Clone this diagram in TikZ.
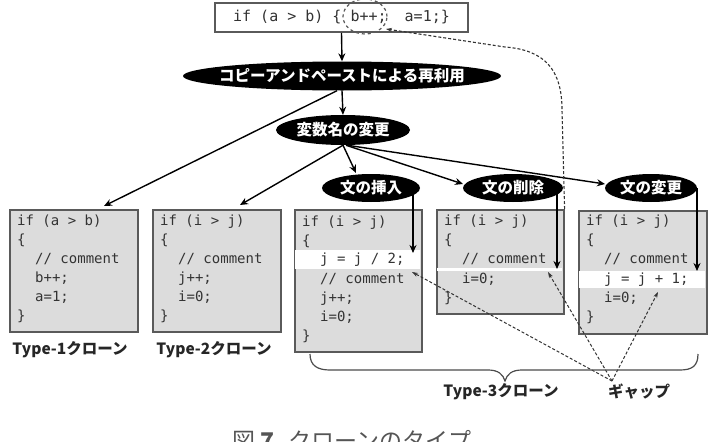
\documentclass[tikz,border=0pt]{standalone}
\usepackage{fontspec}
\setmonofont{DejaVu Sans Mono}
\newfontfamily\jp{Noto Sans CJK JP}
\usetikzlibrary{arrows.meta,shapes.geometric}
\definecolor{boxgray}{HTML}{DCDCDC}
\definecolor{edgecol}{HTML}{5A5A5A}
\definecolor{codecol}{HTML}{333333}
\definecolor{capcol}{HTML}{555555}
\newcommand\codeln[4]{\node[codeline] (#1) at (#2,#3) {#4};}
\begin{document}
\begin{tikzpicture}[x=1pt,y=-1pt,
  codebox/.style={draw=edgecol,line width=1.6pt,fill=boxgray,anchor=north west,inner sep=0pt,minimum width=#1},
  codeline/.style={anchor=west,inner sep=0pt,font=\ttfamily\fontsize{14}{14}\selectfont,text=codecol,text height=10pt,text depth=3pt},
  blob/.style={ellipse,fill=black,inner sep=0pt,text=white,font=\jp\bfseries\fontsize{15.5}{16}\selectfont},
  lab/.style={inner sep=0pt,font=\jp\bfseries\fontsize{15.5}{16}\selectfont,text=black!85},
  arr/.style={line width=1.4pt,-{Stealth[length=8pt,width=7pt]}},
  gaparr/.style={line width=1pt,dash pattern=on 3pt off 2pt,draw=black!80,-{Stealth[length=6pt,width=4pt]}},
  band/.style={fill=white,draw=none}
]
\path[use as bounding box] (0,0) rectangle (716,442);
\clip (0,0) rectangle (716,442);

% top code
\node[draw=edgecol,line width=1.6pt,fill=white,minimum width=253pt,minimum height=29pt,inner sep=0pt,
  font=\ttfamily\fontsize{15}{15}\selectfont,text=codecol] (top) at (341.5,17.5) {if (a > b) \{ b++;\ \ a=1;\}};
\node[ellipse,draw=edgecol,dashed,line width=1.2pt,minimum width=44pt,minimum height=35pt,inner sep=0pt] (hl) at (365,16.5) {};

% ellipses
\node[blob,minimum width=318pt,minimum height=29pt] (e1) at (342,76) {\makebox[0pt]{コピーアンドペーストによる再利用}};
\node[blob,minimum width=134pt,minimum height=30pt] (e2) at (343,130) {\makebox[0pt]{変数名の変更}};

% boxes
\node[codebox=128pt,minimum height=122pt] (b1) at (9,209) {};
\node[codebox=128pt,minimum height=122pt] (b2) at (152,209) {};
\node[codebox=127pt,minimum height=142pt] (b3) at (294,209) {};
\node[codebox=127pt,minimum height=104pt] (b4) at (436,209) {};
\node[codebox=128pt,minimum height=123pt] (b5) at (578,210) {};
\fill[band] (295,250) rectangle (420,269);
\fill[band] (437,268) rectangle (562,270.5);
\fill[band] (579,271) rectangle (705,288);

% code lines
\codeln{b1a}{17}{222}{if (a > b)}
\codeln{b1b}{17}{241}{\{}
\codeln{b1c}{35}{260}{// comment}
\codeln{b1d}{35}{279}{b++;}
\codeln{b1e}{35}{298}{a=1;}
\codeln{b1f}{17}{317}{\}}

\codeln{b2a}{160}{222}{if (i > j)}
\codeln{b2b}{160}{241}{\{}
\codeln{b2c}{178}{260}{// comment}
\codeln{b2d}{178}{279}{j++;}
\codeln{b2e}{178}{298}{i=0;}
\codeln{b2f}{160}{317}{\}}

\codeln{b3a}{302}{223}{if (i > j)}
\codeln{b3b}{302}{242}{\{}
\codeln{b3c}{320}{260}{j = j / 2;}
\codeln{b3d}{320}{280}{// comment}
\codeln{b3e}{320}{299}{j++;}
\codeln{b3f}{320}{318}{i=0;}
\codeln{b3g}{302}{337}{\}}

\codeln{b4a}{444}{222}{if (i > j)}
\codeln{b4b}{444}{241}{\{}
\codeln{b4c}{462}{260}{// comment}
\codeln{b4d}{462}{280}{i=0;}
\codeln{b4e}{444}{299}{\}}

\codeln{b5a}{586}{222}{if (i > j)}
\codeln{b5b}{586}{241}{\{}
\codeln{b5c}{604}{260}{// comment}
\codeln{b5d}{604}{280}{j = j + 1;}
\codeln{b5e}{604}{299}{i=0;}
\codeln{b5f}{586}{318}{\}}

% small ellipses
\node[blob,minimum width=98pt,minimum height=28pt] (e3) at (371,188) {\makebox[0pt]{文の挿入}};
\node[blob,minimum width=100pt,minimum height=28pt] (e4) at (513,188) {\makebox[0pt]{文の削除}};
\node[blob,minimum width=92pt,minimum height=28pt] (e5) at (651,188) {\makebox[0pt]{文の変更}};

% coordinates
\coordinate (t1) at (104,206);
\coordinate (t2) at (240,205);
\coordinate (t3) at (356,173);
\coordinate (t4) at (463,184);
\coordinate (t5) at (605,184);
\coordinate (d3) at (413,253);
\coordinate (d4) at (557,269);
\coordinate (d5) at (697,271);
\coordinate (g) at (612,381);
\coordinate (g3) at (412,272);
\coordinate (g4) at (548,272);
\coordinate (g5) at (658,292);
\coordinate (hp) at (386,29);

% arrows
\draw[arr] (top.south) -- (e1.north);
\draw[arr] (e1.south) -- (e2.north);
\draw[arr] ([xshift=-5pt]e1.south) -- (t1);
\draw[arr] (e2.south) -- (t2);
\draw[arr] (e2.south) -- (t3);
\draw[arr] ([xshift=3pt]e2.south) -- (t4);
\draw[arr] ([xshift=4pt]e2.south) -- (t5);
\draw[arr] (d3 |- e3.center) -- (d3);
\draw[arr] (d4 |- e4.center) -- (d4);
\draw[arr] (d5 |- e5.center) -- (d5);

% dashed curve from deletion box to highlighted statement
\draw[line width=1.1pt,dash pattern=on 3pt off 2pt,draw=black!80,-{Stealth[length=6pt,width=4pt]}]
  (b4.north east) -- (562,110) .. controls (562,70) and (545,50) .. (505,47) -- (hp);

% gap arrows
\draw[gaparr] (g) -- (g3);
\draw[gaparr] (g) -- (g4);
\draw[gaparr] (g) -- (g5);

% brace
\draw[line width=1.2pt,draw=black!70] (310,354) .. controls (310,366) and (318,370) .. (330,370) -- (488,370)
  .. controls (498,370) and (503,374) .. (505,381) .. controls (507,374) and (512,370) .. (522,370) -- (680,370)
  .. controls (692,370) and (698,366) .. (698,354);

% labels
\node[lab] (l1) at (70,350) {Type-1クローン};
\node[lab] (l2) at (214,350) {Type-2クローン};
\node[lab] (l3) at (501,392) {Type-3クローン};
\node[lab] (gap) at (639,392) {ギャップ};
\node[anchor=base west,inner sep=0pt,font=\jp\fontsize{23}{23}\selectfont,text=capcol] (cap) at (232,449) {図 \textbf{7}\hspace{0.6em}クローンのタイプ};
\end{tikzpicture}
\end{document}
